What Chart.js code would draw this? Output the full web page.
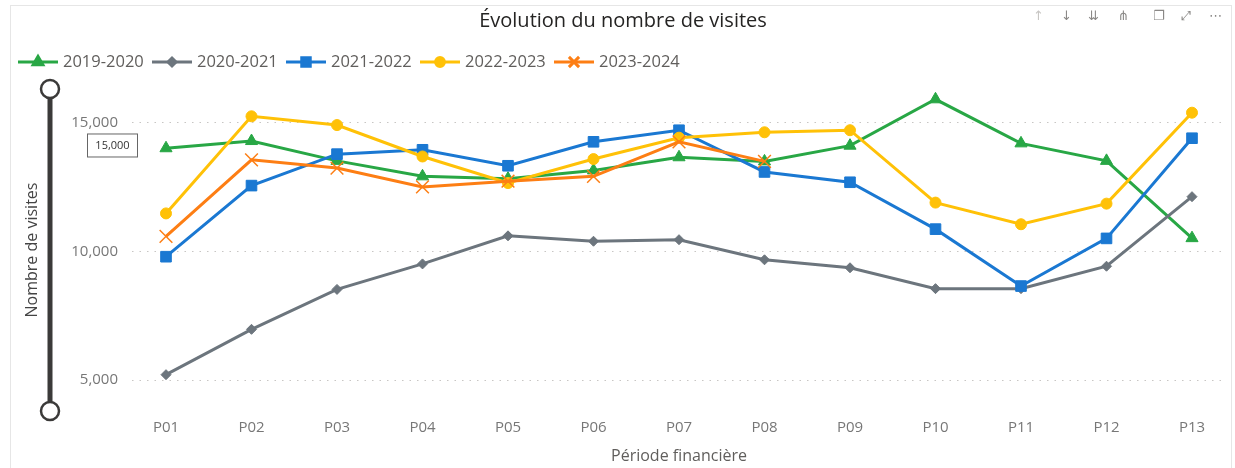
<!DOCTYPE html>
<html>
<head>
  <title>Évolution du nombre de visites</title>
  <script src="https://cdn.jsdelivr.net/npm/chart.js"></script>
  <style>
    body { margin: 0; overflow: hidden; background: #fff; font-family: "Open Sans", sans-serif; }
    #frame { position: absolute; left: 10px; top: 5px; width: 1220px; height: 480px; border: 1px solid #e6e6e6; pointer-events: none; }
    #icons span { position: absolute; top: 8px; font-family: "DejaVu Sans", sans-serif; font-size: 13px; color: #8a8886; }
  </style>
</head>
<body>
  <canvas id="visitsChart" width="1235" height="468"></canvas>
  <div id="frame"></div>
  <div id="icons">
    <span style="left:1033px;color:#c8c6c4">↑</span>
    <span style="left:1061px">↓</span>
    <span style="left:1088px">⇊</span>
    <span style="left:1118px">⋔</span>
    <span style="left:1153px">❐</span>
    <span style="left:1181px">⤢</span>
    <span style="left:1209px">⋯</span>
  </div>

  <script>
    const periods = ['P01', 'P02', 'P03', 'P04', 'P05', 'P06', 'P07', 'P08', 'P09', 'P10', 'P11', 'P12', 'P13'];
    const seriesNames = ['2019-2020', '2020-2021', '2021-2022', '2022-2023', '2023-2024'];
    const visits1920 = [14000, 14280, 13510, 12910, 12820, 13140, 13650, 13490, 14100, 15900, 14190, 13510, 10510];
    const visits2021 = [5210, 6970, 8520, 9510, 10600, 10390, 10450, 9670, 9360, 8550, 8550, 9420, 12120];
    const visits2122 = [9790, 12550, 13770, 13940, 13320, 14250, 14700, 13080, 12680, 10860, 8650, 10500, 14390];
    const visits2223 = [11470, 15240, 14900, 13680, 12650, 13580, 14410, 14620, 14700, 11890, 11050, 11850, 15380];
    const visits2324 = [10580, 13550, 13230, 12500, 12720, 12910, 14250, 13490, null, null, null, null, null];
    const yTicks = [5000, 10000, 15000];

    const colors = ['#28a745', '#6c757d', '#1a78d2', '#ffc107', '#fd7e14'];
    const styles = [
      { pointStyle: 'triangle', radius: 7, borderWidth: 1 },
      { pointStyle: 'rectRot', radius: 5, borderWidth: 1 },
      { pointStyle: 'rect', radius: 7.5, borderWidth: 1 },
      { pointStyle: 'circle', radius: 5.5, borderWidth: 1 },
      { pointStyle: 'crossRot', radius: 9, borderWidth: 1.5 }
    ];
    const allSeries = [visits1920, visits2021, visits2122, visits2223, visits2324];

    const datasets = allSeries.map((values, i) => ({
      label: seriesNames[i],
      data: values,
      borderColor: colors[i],
      backgroundColor: colors[i],
      borderWidth: 3,
      tension: 0,
      pointStyle: styles[i].pointStyle,
      pointRadius: styles[i].radius,
      pointBorderWidth: styles[i].borderWidth,
      pointBackgroundColor: colors[i],
      pointBorderColor: colors[i],
      order: allSeries.length - i
    }));

    const fmt = v => v.toLocaleString('en-US');

    function drawMarker(ctx, style, color, x, y, scale) {
      ctx.save();
      ctx.fillStyle = color;
      ctx.strokeStyle = color;
      if (Chart.helpers && Chart.helpers.drawPoint) {
        Chart.helpers.drawPoint(ctx, { pointStyle: style.pointStyle, radius: style.radius * scale, borderWidth: style.borderWidth, rotation: 0 }, x, y);
      } else {
        ctx.beginPath();
        ctx.arc(x, y, style.radius * scale, 0, Math.PI * 2);
        ctx.fill();
      }
      ctx.restore();
    }

    const decorations = {
      id: 'decorations',
      beforeDatasetsDraw(chart) {
        const ctx = chart.ctx;
        const yScale = chart.scales.y;
        ctx.save();
        ctx.strokeStyle = '#c8c6c4';
        ctx.lineWidth = 1.2;
        ctx.setLineDash([1.5, 6]);
        yTicks.forEach(v => {
          const y = Math.round(yScale.getPixelForValue(v)) + 0.5;
          ctx.beginPath();
          ctx.moveTo(132, y);
          ctx.lineTo(1222, y);
          ctx.stroke();
        });
        ctx.restore();
      },
      afterDraw(chart) {
        const ctx = chart.ctx;
        const area = chart.chartArea;
        ctx.save();

        // title
        ctx.fillStyle = '#252423';
        ctx.font = '20px "Open Sans"';
        ctx.textAlign = 'center';
        ctx.textBaseline = 'middle';
        ctx.fillText('Évolution du nombre de visites', 623, 21);

        // legend
        ctx.font = '16.5px "Open Sans"';
        ctx.textAlign = 'left';
        let lx = 18;
        const ly = 62;
        seriesNames.forEach((name, i) => {
          ctx.strokeStyle = colors[i];
          ctx.lineWidth = 3;
          ctx.beginPath();
          ctx.moveTo(lx, ly);
          ctx.lineTo(lx + 40, ly);
          ctx.stroke();
          drawMarker(ctx, styles[i], colors[i], lx + 20, ly, 0.8);
          ctx.fillStyle = '#605e5c';
          ctx.fillText(name, lx + 45, ly);
          lx += 134;
        });

        // axis titles
        ctx.fillStyle = '#605e5c';
        ctx.font = '16px "Open Sans"';
        ctx.textAlign = 'center';
        ctx.fillText('Période financière', (area.left + area.right) / 2, 456);
        ctx.save();
        ctx.translate(32, (area.top + area.bottom) / 2);
        ctx.rotate(-Math.PI / 2);
        ctx.fillStyle = '#444';
        ctx.fillText('Nombre de visites', 0, 0);
        ctx.restore();

        // range slider
        ctx.strokeStyle = '#3b3a39';
        ctx.lineWidth = 5;
        ctx.beginPath();
        ctx.moveTo(50, area.top);
        ctx.lineTo(50, area.bottom);
        ctx.stroke();
        ctx.lineWidth = 2.5;
        ctx.fillStyle = '#fff';
        [area.top, area.bottom].forEach(y => {
          ctx.beginPath();
          ctx.arc(50, y, 9, 0, Math.PI * 2);
          ctx.fill();
          ctx.stroke();
        });

        // slider value box
        const yMaxTick = chart.scales.y.getPixelForValue(yTicks[yTicks.length - 1]);
        ctx.fillStyle = '#fff';
        ctx.fillRect(87.5, yMaxTick + 11.5, 50, 23);
        ctx.strokeStyle = '#666';
        ctx.lineWidth = 1;
        ctx.strokeRect(87.5, yMaxTick + 11.5, 50, 23);
        ctx.fillStyle = '#333';
        ctx.font = '11px "Open Sans"';
        ctx.fillText(fmt(yTicks[yTicks.length - 1]), 112.5, yMaxTick + 23.5);

        ctx.restore();
      }
    };

    new Chart(document.getElementById('visitsChart'), {
      type: 'line',
      data: { labels: periods, datasets: datasets },
      plugins: [decorations],
      options: {
        responsive: false,
        animation: false,
        devicePixelRatio: 1,
        layout: { padding: { top: 89, right: 43, left: 0, bottom: 0 } },
        plugins: {
          legend: { display: false },
          title: { display: false },
          tooltip: { enabled: false }
        },
        scales: {
          x: {
            offset: false,
            grid: { display: false, drawTicks: false },
            border: { display: false },
            ticks: { color: '#777', font: { family: 'Open Sans', size: 15 }, padding: 8, maxRotation: 0 },
            afterFit: scale => { scale.height = 54; }
          },
          y: {
            min: 3800,
            max: 16300,
            grid: { display: false, drawTicks: false },
            border: { display: false },
            ticks: {
              color: '#777',
              font: { family: 'Open Sans', size: 15 },
              padding: 48,
              callback: v => fmt(v)
            },
            afterBuildTicks: scale => { scale.ticks = yTicks.map(v => ({ value: v })); },
            afterFit: scale => { scale.width = 166; }
          }
        }
      }
    });
  </script>
</body>
</html>
